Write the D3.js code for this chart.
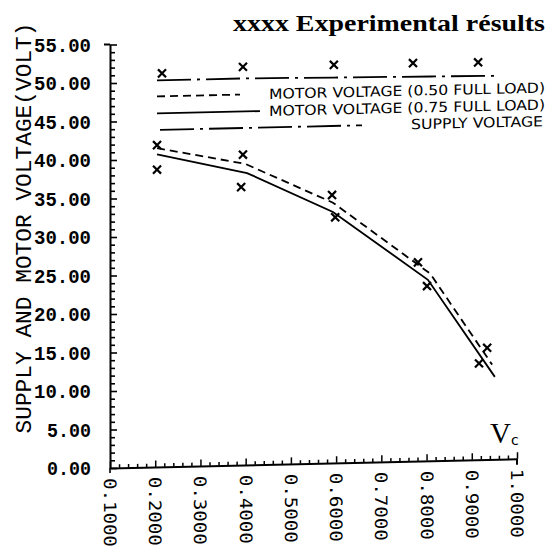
<!DOCTYPE html>
<html>
<head>
<meta charset="utf-8">
<script src="https://cdn.jsdelivr.net/npm/d3@7"></script>
<style>
  body { margin: 0; background: #fff; }
  svg { display: block; }
</style>
</head>
<body>
<svg id="chart" width="550" height="552"></svg>
<script>
// ---- data ----
const yTickValues = [0, 5, 10, 15, 20, 25, 30, 35, 40, 45, 50, 55];
const xTickValues = [0.1, 0.2, 0.3, 0.4, 0.5, 0.6, 0.7, 0.8, 0.9, 1.0];
const xTickLabels = ["0.1000", "0.2000", "0.3000", "0.4000", "0.5000",
                     "0.6000", "0.7000", "0.8000", "0.9000", "1.0000"];

// computed curves
const motor050Vc = [0.204, 0.399, 0.593, 0.808, 0.945];
const motor050V  = [41.4, 39.1, 33.8, 24.3, 12.3];
const motor075Vc = [0.204, 0.403, 0.593, 0.803, 0.951];
const motor075V  = [40.6, 37.9, 32.6, 23.5, 10.7];
const supplyVc   = [0.204, 0.400, 0.595, 0.810, 0.951];
const supplyV    = [50.2, 50.2, 50.05, 49.9, 49.8];

// experimental points
const exp050Vc   = [0.204, 0.394, 0.591, 0.781, 0.934];
const exp050V    = [41.8, 40.3, 34.8, 25.8, 14.5];
const exp075Vc   = [0.204, 0.390, 0.598, 0.801, 0.916];
const exp075V    = [38.6, 36.1, 31.9, 22.7, 12.5];
const expSupVc   = [0.215, 0.394, 0.595, 0.770, 0.914];
const expSupV    = [51.1, 51.7, 51.7, 51.7, 51.6];

const legendLabels = ["MOTOR VOLTAGE (0.50 FULL LOAD)",
                      "MOTOR VOLTAGE (0.75 FULL LOAD)",
                      "SUPPLY VOLTAGE"];

// ---- layout ----
const svg = d3.select("#chart");
const x = d3.scaleLinear().domain([0.1, 1.0]).range([110, 517]);
const y = d3.scaleLinear().domain([0, 55]).range([468, 44.5]);
const ink = "#000";

const monoFont = "'Courier New', 'Liberation Mono', monospace";
const plotterFont = "'DejaVu Sans', sans-serif";

// the printed sheet sits slightly sheared: horizontals rise to the right
const sheet = svg.append("g")
  .attr("transform", `translate(${x(0.1)},0) skewY(-1.3) translate(${-x(0.1)},0)`);

// ---- y axis ----
const yMinor = d3.range(0, 56, 1);
const yAxisG = svg.append("g").attr("transform", `translate(${x(0.1)},0)`);
yAxisG.call(d3.axisRight(y).tickValues(yMinor).tickSize(5).tickSizeOuter(0).tickFormat(""));
yAxisG.call(g => g.selectAll(".tick line").attr("stroke", ink).attr("stroke-width", 1.6));
yAxisG.select(".domain").attr("stroke", ink).attr("stroke-width", 2);
yAxisG.selectAll(".tick").filter(d => d % 5 === 0).select("line").attr("x2", 7);
// end caps of the axis
yAxisG.append("line").attr("x1", -6).attr("x2", 0).attr("y1", y(55)).attr("y2", y(55))
  .attr("stroke", ink).attr("stroke-width", 2);
yAxisG.append("line").attr("x1", 0).attr("x2", 0).attr("y1", y(0)).attr("y2", y(0) + 5)
  .attr("stroke", ink).attr("stroke-width", 1.6);

const yLabelG = svg.append("g").attr("transform", `translate(${x(0.1)},0)`);
yLabelG.call(d3.axisLeft(y).tickValues(yTickValues).tickSize(0).tickPadding(19)
  .tickFormat(d3.format(".2f")));
yLabelG.select(".domain").remove();
yLabelG.selectAll("text")
  .attr("font-family", monoFont).attr("font-weight", "bold")
  .attr("font-size", 21).attr("fill", ink)
  .attr("textLength", d => d >= 10 ? 57 : 44)
  .attr("lengthAdjust", "spacingAndGlyphs");

// y axis title
svg.append("text")
  .attr("transform", "translate(31,228) rotate(-90)")
  .attr("text-anchor", "middle")
  .attr("font-family", monoFont).attr("font-size", 22).attr("fill", ink)
  .attr("textLength", 411).attr("lengthAdjust", "spacingAndGlyphs")
  .text("SUPPLY AND MOTOR VOLTAGE(VOLT)");

// ---- x axis ----
const xMinor = d3.range(10, 101, 2).map(d => d / 100);
const xAxisG = sheet.append("g").attr("transform", `translate(0,${y(0)})`);
xAxisG.call(d3.axisTop(x).tickValues(xMinor).tickSize(3.5).tickSizeOuter(0).tickFormat(""));
xAxisG.select(".domain").attr("stroke", ink).attr("stroke-width", 2);
xAxisG.selectAll(".tick line").attr("stroke", ink).attr("stroke-width", 1.5);
xAxisG.selectAll(".tick").filter(d => Math.abs(Math.round(d * 10) - d * 10) < 1e-6)
  .select("line").attr("y2", -6.5);
xAxisG.append("line").attr("x1", x(1.0)).attr("x2", x(1.0)).attr("y1", 0).attr("y2", 6)
  .attr("stroke", ink).attr("stroke-width", 2);

sheet.append("g").selectAll("text")
  .data(xTickValues)
  .join("text")
  .attr("transform", (d) => `translate(${x(d)},${y(0) + 10}) rotate(90)`)
  .attr("dominant-baseline", "central")
  .attr("font-family", "'DejaVu Sans Mono', monospace")
  .attr("font-size", 17).attr("fill", ink)
  .attr("textLength", 69).attr("lengthAdjust", "spacingAndGlyphs")
  .text((d, i) => xTickLabels[i]);

// ---- curves ----
const line = d3.line().x(d => x(d[0])).y(d => y(d[1]));
const zip = (a, b) => a.map((v, i) => [v, b[i]]);

const dashPattern = "8,5";
const dashDotPattern = "34,6,3,6";

sheet.append("path")
  .attr("d", line(zip(motor050Vc, motor050V)))
  .attr("fill", "none").attr("stroke", ink).attr("stroke-width", 1.8)
  .attr("stroke-dasharray", dashPattern);
sheet.append("path")
  .attr("d", line(zip(motor075Vc, motor075V)))
  .attr("fill", "none").attr("stroke", ink).attr("stroke-width", 1.8);
sheet.append("path")
  .attr("d", line(zip(supplyVc, supplyV)))
  .attr("fill", "none").attr("stroke", ink).attr("stroke-width", 1.8)
  .attr("stroke-dasharray", dashDotPattern);

// ---- experimental markers ----
const cross = d3.symbol().type(d3.symbolX).size(44);
const expPoints = [].concat(zip(exp050Vc, exp050V), zip(exp075Vc, exp075V), zip(expSupVc, expSupV));
sheet.append("g").selectAll("path")
  .data(expPoints)
  .join("path")
  .attr("transform", d => `translate(${x(d[0])},${y(d[1])})`)
  .attr("d", cross)
  .attr("fill", "none").attr("stroke", ink).attr("stroke-width", 2.2);

// ---- legend ----
const legendRows = [
  { y: 97.5, x1: 157, x2: 240, dash: dashPattern, textX: 269, textLen: 276 },
  { y: 114.5, x1: 157, x2: 260, dash: null, textX: 269, textLen: 276 },
  { y: 131, x1: 160, x2: 362, dash: dashDotPattern, textX: 411, textLen: 132 }
];
const legendG = sheet.append("g");
legendRows.forEach((r, i) => {
  legendG.append("line")
    .attr("x1", r.x1).attr("x2", r.x2).attr("y1", r.y).attr("y2", r.y)
    .attr("stroke", ink).attr("stroke-width", 1.8)
    .attr("stroke-dasharray", r.dash);
  legendG.append("text")
    .attr("x", r.textX).attr("y", r.y)
    .attr("dominant-baseline", "central")
    .attr("font-family", plotterFont).attr("font-size", 14).attr("fill", ink)
    .attr("textLength", r.textLen).attr("lengthAdjust", "spacingAndGlyphs")
    .text(legendLabels[i]);
});

// ---- title and axis symbol ----
svg.append("text")
  .attr("x", 233).attr("y", 31)
  .attr("font-family", "'Liberation Serif', 'Times New Roman', serif")
  .attr("font-weight", "bold").attr("font-size", 24).attr("fill", ink)
  .attr("textLength", 312).attr("lengthAdjust", "spacingAndGlyphs")
  .text("xxxx  Experimental résults");

const vcLabel = svg.append("text")
  .attr("x", 490).attr("y", 443)
  .attr("fill", ink);
vcLabel.append("tspan")
  .attr("font-family", "'Liberation Serif', serif").attr("font-size", 29)
  .text("V");
vcLabel.append("tspan")
  .attr("font-family", plotterFont).attr("font-size", 14).attr("dy", 2)
  .text("c");
</script>
</body>
</html>
